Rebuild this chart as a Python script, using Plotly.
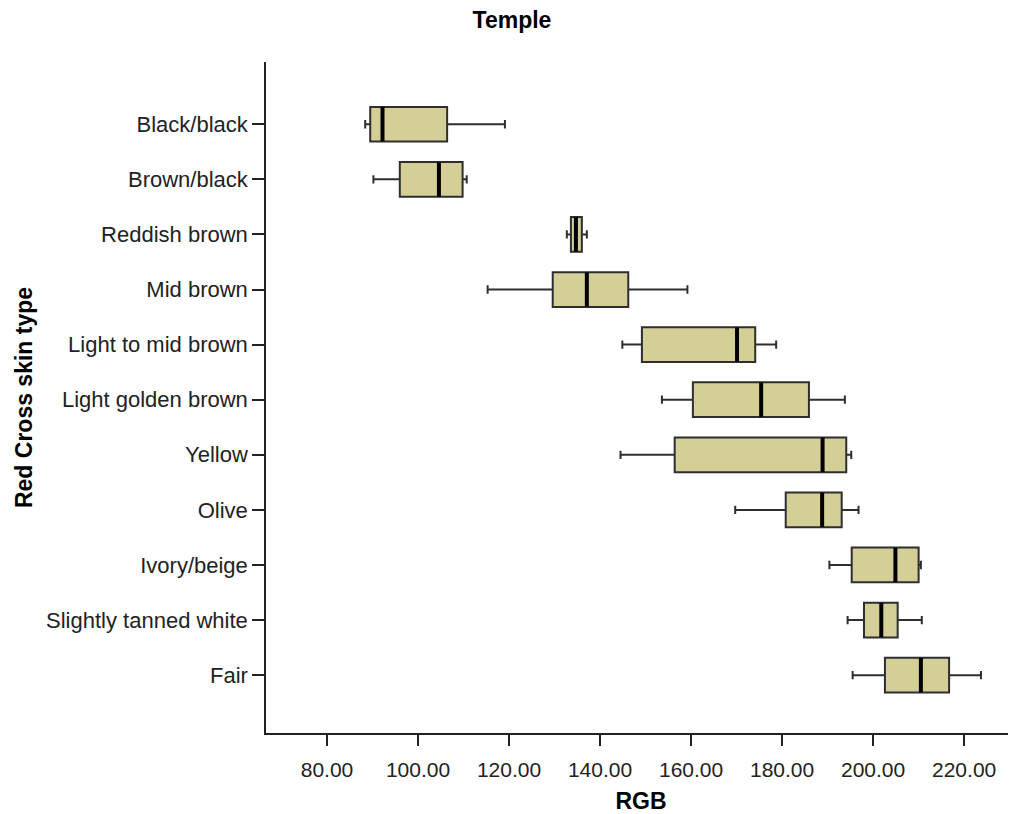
import plotly.graph_objects as go

categories = ["Black/black", "Brown/black", "Reddish brown", "Mid brown",
              "Light to mid brown", "Light golden brown", "Yellow", "Olive",
              "Ivory/beige", "Slightly tanned white", "Fair"]
lower = [88.4, 90.2, 132.7, 115.3, 144.9, 153.6, 144.5, 169.7, 190.4, 194.4, 195.5]
q1 = [89.5, 96.0, 133.6, 129.6, 149.2, 160.4, 156.4, 180.8, 195.3, 198.0, 202.6]
median = [92.2, 104.6, 134.7, 137.1, 170.1, 175.4, 188.9, 188.8, 204.9, 201.8, 210.5]
q3 = [106.4, 109.8, 136.0, 146.2, 174.1, 185.9, 194.1, 193.1, 210.0, 205.4, 216.7]
upper = [119.1, 110.7, 137.1, 159.2, 178.7, 193.8, 195.2, 196.8, 210.5, 210.7, 223.7]
x_ticks = [80, 100, 120, 140, 160, 180, 200, 220]

FONT = "Liberation Sans, Arial, sans-serif"

fig = go.Figure()
fig.add_trace(go.Box(
    y=categories, q1=q1, median=median, q3=q3,
    lowerfence=lower, upperfence=upper,
    orientation="h", width=0.63, whiskerwidth=0.24,
    fillcolor="#D3CF96", line=dict(color="#2e2e2e", width=2),
    boxpoints=False, showlegend=False, hoverinfo="skip",
))
fig.add_trace(go.Scatter(
    x=median, y=categories, mode="markers",
    marker=dict(symbol="line-ns", size=24.5, color="black",
                line=dict(color="black", width=4)),
    showlegend=False, hoverinfo="skip",
))

fig.update_layout(
    width=1008, height=806,
    margin=dict(l=258, r=0, t=54, b=81),
    paper_bgcolor="white", plot_bgcolor="white",
    font=dict(family=FONT, size=22, color="#222222"),
    title=dict(text="<b>Temple</b>", x=0.5, xref="container", xanchor="center",
               y=0.985, yref="container", yanchor="middle",
               font=dict(family=FONT, size=23, color="black")),
    xaxis=dict(
        range=[66.6, 231.4], tickvals=x_ticks, tickformat=".2f",
        showgrid=False, zeroline=False,
        showline=True, linecolor="#222222", linewidth=1.5,
        ticks="outside", ticklen=11, tickcolor="#222222", tickwidth=1.5,
        ticklabelstandoff=6,
        tickfont=dict(family=FONT, size=21, color="#222222"),
        title=dict(text="<b>RGB</b>", standoff=14,
                   font=dict(family=FONT, size=23, color="black")),
    ),
    yaxis=dict(
        type="category", categoryorder="array", categoryarray=categories,
        range=[11.05, -1.13],
        showgrid=False, zeroline=False,
        showline=True, linecolor="#222222", linewidth=1.5,
        ticks="outside", ticklen=12, tickcolor="#222222", tickwidth=1.5,
        tickfont=dict(family=FONT, size=22, color="#222222"),
        title=dict(text="<b>Red Cross skin type</b>", standoff=7,
                   font=dict(family=FONT, size=23, color="black")),
    ),
)

fig.write_html("out.html")
